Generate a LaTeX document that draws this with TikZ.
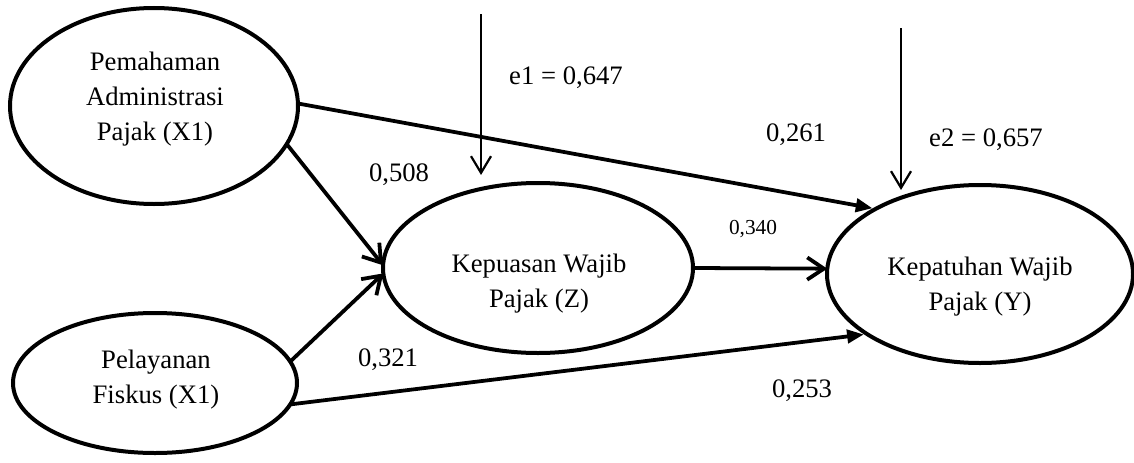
\documentclass[tikz,border=0pt]{standalone}
\usepackage{fontspec}
\setmainfont{Liberation Serif}
\usetikzlibrary{shapes.geometric,arrows.meta}

\tikzset{
  latent/.style={ellipse, draw, line width=1.8pt, inner sep=0pt, outer sep=0pt},
  nametext/.style={align=center, font=\fontsize{12}{15.8}\selectfont, inner sep=0pt},
  coef/.style={font=\fontsize{12}{14}\selectfont, inner sep=0pt},
  coefsmall/.style={font=\fontsize{9.6}{11}\selectfont, inner sep=0pt},
  path/.style={line width=1.7pt, -{Straight Barb[length=7.5pt,width=10pt]}},
  directpath/.style={line width=1.7pt, -{Triangle[length=7.5pt,width=6pt]}},
  errpath/.style={line width=1pt, -{Straight Barb[length=7.5pt,width=9pt]}},
}

\begin{document}
\begin{tikzpicture}[x=0.45pt,y=-0.45pt]
  \useasboundingbox (0,0) rectangle (1134,463);

  % latent variables
  \node[latent, minimum width=288*0.45pt, minimum height=196*0.45pt] (A) at (154,106) {};
  \node[latent, minimum width=284*0.45pt, minimum height=140*0.45pt] (B) at (155,383) {};
  \node[latent, minimum width=310*0.45pt, minimum height=170*0.45pt] (Z) at (538,268) {};
  \node[latent, minimum width=306*0.45pt, minimum height=178*0.45pt] (Y) at (980,274) {};

  \node[nametext] (At) at (155,99) {Pemahaman\\Administrasi\\Pajak (X1)};
  \node[nametext] (Bt) at (156,380) {Pelayanan\\Fiskus (X1)};
  \node[nametext] (Zt) at (539,284) {Kepuasan Wajib\\Pajak (Z)};
  \node[nametext] (Yt) at (980,287) {Kepatuhan Wajib\\Pajak (Y)};

  % error terms
  \coordinate (e1top) at (481,14);
  \coordinate (e1tip) at (481,175);
  \coordinate (e2top) at (901,28);
  \coordinate (e2tip) at (901,190);
  \draw[errpath] (e1top) -- (e1tip);
  \draw[errpath] (e2top) -- (e2tip);

  % structural paths
  \draw[path] (A.-16) -- (Z.179);
  \draw[path] (B.9) -- (Z.182);
  \draw[path] (Z.east) -- (Y.178);
  \draw[directpath, shorten >=1.5pt] (A.1) -- (Y.148);
  \draw[directpath, shorten >=1.5pt] (B.-9) -- (Y.208);

  % coefficients
  \node[coef] (le1) at (566,78) {e1 = 0,647};
  \node[coef] (le2) at (986,140) {e2 = 0,657};
  \node[coef] (l261) at (796,135) {0,261};
  \node[coef] (l508) at (399,175) {0,508};
  \node[coefsmall] (l340) at (753,229) {0,340};
  \node[coef] (l321) at (388,360) {0,321};
  \node[coef] (l253) at (802,391) {0,253};
\end{tikzpicture}
\end{document}
